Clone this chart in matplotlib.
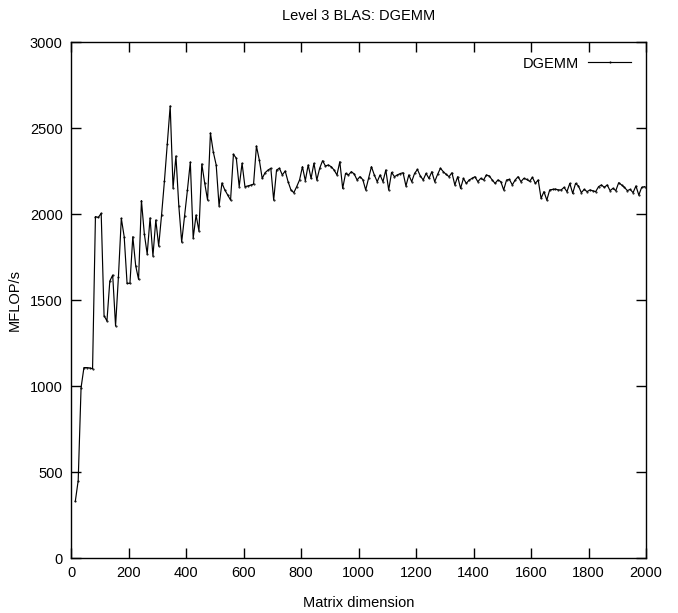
import numpy as np
import matplotlib
matplotlib.use('Agg')
import matplotlib.pyplot as plt

plt.rcParams['font.family'] = ['Liberation Sans Narrow', 'Liberation Sans', 'DejaVu Sans']

# matrix dimension (step 10) and measured MFLOP/s
n = np.arange(15, 2000, 10)
mflops = [
    330, 450, 990, 1107, 1107, 1105, 1100, 1985, 1980, 2004,
    1409, 1378, 1610, 1645, 1349, 1636, 1975, 1868, 1597, 1597,
    1868, 1699, 1620, 2078, 1885, 1767, 1977, 1756, 1965, 1814,
    1994, 2192, 2407, 2628, 2151, 2337, 2047, 1837, 1988, 2140,
    2302, 1860, 1994, 1901, 2291, 2180, 2081, 2471, 2360, 2285,
    2047, 2180, 2140, 2110, 2081, 2347, 2324, 2159, 2295, 2159,
    2163, 2168, 2174, 2395, 2314, 2207, 2240, 2255, 2266, 2081,
    2256, 2266, 2227, 2250, 2188, 2140, 2124, 2159, 2198, 2275,
    2194, 2285, 2207, 2295, 2198, 2266, 2310, 2279, 2285, 2275,
    2256, 2227, 2304, 2149, 2236, 2227, 2246, 2233, 2198, 2217,
    2200, 2140, 2207, 2275, 2227, 2188, 2227, 2188, 2256, 2140,
    2242, 2217, 2227, 2235, 2240, 2163, 2227, 2188, 2236, 2259,
    2221, 2198, 2236, 2207, 2246, 2188, 2230, 2266, 2246, 2230,
    2217, 2240, 2169, 2217, 2149, 2207, 2178, 2198, 2207, 2217,
    2188, 2207, 2198, 2227, 2221, 2198, 2178, 2198, 2188, 2140,
    2198, 2201, 2169, 2198, 2217, 2188, 2207, 2201, 2190, 2213,
    2178, 2198, 2091, 2130, 2081, 2140, 2143, 2145, 2140, 2140,
    2155, 2130, 2178, 2120, 2178, 2163, 2124, 2143, 2130, 2140,
    2135, 2130, 2159, 2169, 2155, 2169, 2136, 2149, 2136, 2182,
    2169, 2155, 2136, 2143, 2124, 2163, 2110, 2155, 2159,
]

fig = plt.figure(figsize=(6.78, 6.13), dpi=100)
ax = fig.add_axes([71/678, 55/613, 575/678, 516/613])

ax.plot(n, mflops, color='black', lw=0.85, marker='.', markersize=1, label='DGEMM')

ax.set_xlim(0, 2000)
ax.set_ylim(0, 3000)
ax.set_xticks(np.arange(0, 2001, 200))
ax.set_yticks(np.arange(0, 3001, 500))
ax.tick_params(direction='in', length=7, width=1, top=True, right=True,
               labelsize=10.5, pad=6)
for s in ax.spines.values():
    s.set_linewidth(1)

ax.set_title('Level 3 BLAS: DGEMM', fontsize=10.5, pad=16)
ax.set_xlabel('Matrix dimension', fontsize=10.5, labelpad=11)
ax.set_ylabel('MFLOP/s', fontsize=10.5)
ax.yaxis.set_label_coords(-0.085, 0.5)

ax.legend(loc='upper right', frameon=False, markerfirst=False, numpoints=1,
          handlelength=3.0, handletextpad=0.6, fontsize=10.5, borderaxespad=0.6)

fig.savefig('out.png', dpi=100)
